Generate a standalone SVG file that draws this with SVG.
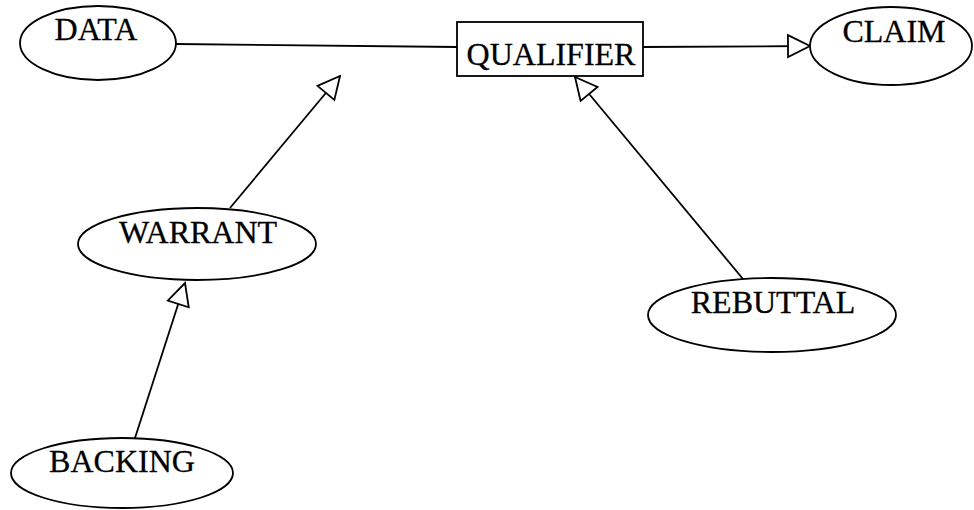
<svg xmlns="http://www.w3.org/2000/svg" width="974" height="510" viewBox="0 0 974 510">
  <style>
    .node { fill: #ffffff; stroke: #000000; stroke-width: 1.8; }
    .label { font-family: "Liberation Serif", "Times New Roman", serif; font-size: 32px; fill: #000000; stroke: #000000; stroke-width: 0.3; text-anchor: middle; }
    .edge { fill: none; stroke: #000000; stroke-width: 1.8; }
    .arrow { marker-end: url(#open-tri); }
  </style>
  <defs>
    <marker id="open-tri" markerUnits="userSpaceOnUse" markerWidth="26" markerHeight="26" viewBox="-2 -2 26 26" refX="22" refY="11" orient="auto">
      <path d="M0,0 L22,11 L0,22 Z" fill="#ffffff" stroke="#000000" stroke-width="1.8" stroke-linejoin="miter"/>
    </marker>
  </defs>
  <rect width="974" height="510" fill="#ffffff"/>

  <g id="connectors">
    <path class="edge" d="M176,44 L457,47"/>
    <path class="edge arrow" d="M643,47 L810,46"/>
    <path class="edge arrow" d="M230,208 L340,76"/>
    <path class="edge arrow" d="M135,438 L185,283"/>
    <path class="edge arrow" d="M743,279 L575,77"/>
  </g>

  <g id="data">
    <ellipse class="node" cx="98" cy="43" rx="78" ry="37"/>
    <text class="label" x="96" y="40">DATA</text>
  </g>
  <g id="qualifier">
    <rect class="node" x="457" y="22" width="186" height="54"/>
    <text class="label" x="551" y="65">QUALIFIER</text>
  </g>
  <g id="claim">
    <ellipse class="node" cx="891" cy="46" rx="81" ry="39"/>
    <text class="label" x="894" y="42">CLAIM</text>
  </g>
  <g id="warrant">
    <ellipse class="node" cx="197" cy="244" rx="119" ry="36"/>
    <text class="label" x="198" y="243">WARRANT</text>
  </g>
  <g id="backing">
    <ellipse class="node" cx="122" cy="473" rx="111" ry="35"/>
    <text class="label" x="122" y="472">BACKING</text>
  </g>
  <g id="rebuttal">
    <ellipse class="node" cx="772" cy="315" rx="124" ry="37"/>
    <text class="label" x="773" y="313">REBUTTAL</text>
  </g>
</svg>
